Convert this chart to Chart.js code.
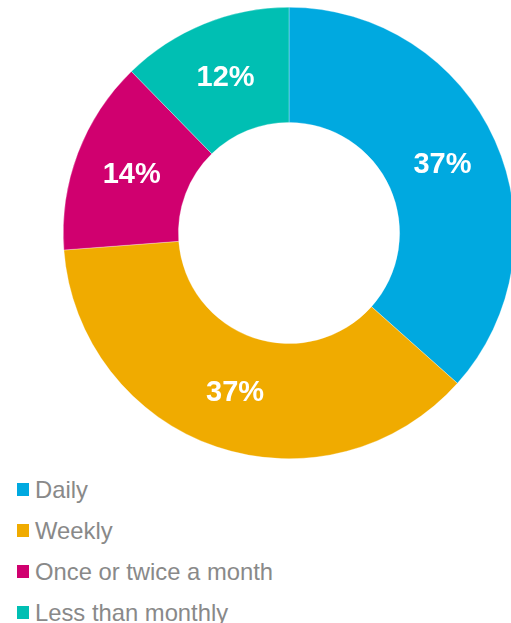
<!DOCTYPE html>
<html>
<head>
<meta charset="utf-8">
<script src="https://cdn.jsdelivr.net/npm/chart.js@4"></script>
<style>
  html, body { margin:0; padding:0; width:511px; height:623px; overflow:hidden; background:#fff; }
  #wrap { position:absolute; left:0; top:0; width:530px; height:466px; }
  #legend { position:absolute; left:17px; top:469px; font-family:"Liberation Sans", Arial, sans-serif; font-size:23.8px; color:#898989; }
  .row { height:41px; display:flex; align-items:center; white-space:nowrap; }
  .box { width:12px; height:13px; margin-right:6px; flex:none; }
</style>
</head>
<body>
<div id="wrap"><canvas id="c" width="530" height="466"></canvas></div>
<div id="legend"></div>
<script>
const categories = ["Daily", "Weekly", "Once or twice a month", "Less than monthly"];
const values = [36.6, 37.2, 13.9, 12.3];
const labelsText = ["37%", "37%", "14%", "12%"];
const colors = ["#00A9E0", "#F0AB00", "#D0006F", "#00BFB3"];

const arcLabels = {
  id: 'arcLabels',
  afterDatasetsDraw(chart) {
    const ctx = chart.ctx;
    const meta = chart.getDatasetMeta(0);
    ctx.save();
    ctx.font = 'bold 29px "Liberation Sans", Arial, sans-serif';
    ctx.fillStyle = '#ffffff';
    ctx.textAlign = 'center';
    ctx.textBaseline = 'middle';
    meta.data.forEach((arc, i) => {
      const p = arc.tooltipPosition();
      ctx.fillText(labelsText[i], p.x, p.y + 1);
    });
    ctx.restore();
  }
};

const chart = new Chart(document.getElementById('c'), {
  type: 'doughnut',
  data: {
    labels: categories,
    datasets: [{
      data: values,
      backgroundColor: colors,
      borderColor: 'rgba(255,255,255,0.6)',
      borderWidth: 0.5
    }]
  },
  options: {
    responsive: false,
    animation: false,
    cutout: '49%',
    layout: { padding: { left: 63, top: 7, right: 15, bottom: 7 } },
    plugins: { legend: { display: false }, tooltip: { enabled: false } }
  },
  plugins: [arcLabels]
});

const leg = document.getElementById('legend');
categories.forEach((name, i) => {
  const row = document.createElement('div');
  row.className = 'row';
  const b = document.createElement('span');
  b.className = 'box';
  b.style.background = colors[i];
  const t = document.createElement('span');
  t.textContent = name;
  row.appendChild(b);
  row.appendChild(t);
  leg.appendChild(row);
});
</script>
</body>
</html>
